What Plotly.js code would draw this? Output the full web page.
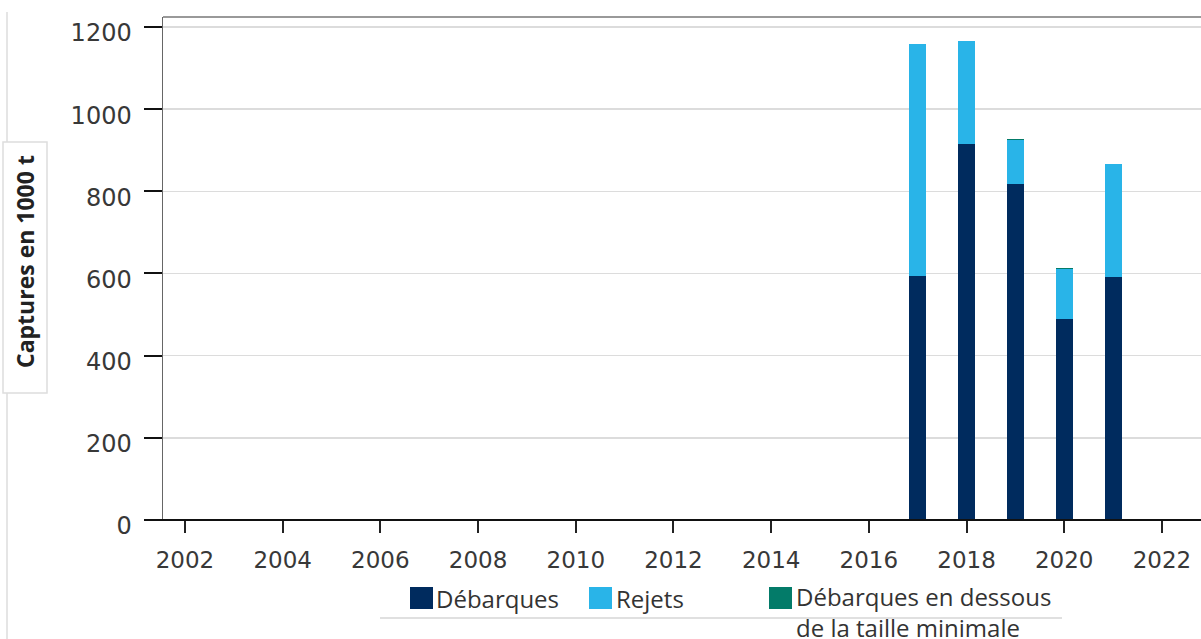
<!DOCTYPE html>
<html>
<head>
<meta charset="utf-8">
<script src="https://cdn.plot.ly/plotly-3.0.1.min.js"></script>
<style>
  html, body { margin: 0; padding: 0; background: #ffffff; }
  #chart { width: 1201px; height: 639px; }
</style>
</head>
<body>
<div id="chart"></div>
<script>
// ---- data ----
const years = [2017, 2018, 2019, 2020, 2021];
const debarques = [594, 914, 819, 489, 591];
const rejets = [565, 252, 105, 122, 276];
const sousTaille = [0, 0, 3, 2, 0];
const xTickVals = [2002, 2004, 2006, 2008, 2010, 2012, 2014, 2016, 2018, 2020, 2022];
const yTickVals = [0, 200, 400, 600, 800, 1000, 1200];
const seriesNames = ["Débarques", "Rejets", "Débarques en dessous<br>de la taille minimale"];
const yTitle = "Captures en 1000 t";

// ---- layout geometry (pixels) ----
const W = 1201, H = 639;
const L = 163, R = 0, T = 17, B = 119;
const PW = W - L - R, PH = H - T - B;
const px = x => (x - L) / PW;          // pixel x -> paper x
const py = y => (H - B - y) / PH;      // pixel y -> paper y

const colNavy = "#002b5e";
const colBlue = "#29b4e8";
const colTeal = "#037b69";

const traces = [
  { type: "bar", x: years, y: debarques, name: seriesNames[0], marker: { color: colNavy }, width: 0.35 },
  { type: "bar", x: years, y: rejets, name: seriesNames[1], marker: { color: colBlue }, width: 0.35 },
  { type: "bar", x: years, y: sousTaille, name: seriesNames[2], marker: { color: colTeal }, width: 0.35 }
];

const tickFont = { family: "DejaVu Sans", size: 23, color: "#383838" };
const legFont = { family: "Open Sans", size: 24, color: "#333333" };

const shapes = [
  // top frame line
  { type: "line", xref: "paper", yref: "paper", x0: 0, x1: 1, y0: py(17), y1: py(17), line: { color: "#777777", width: 1.5 } },
  // x axis baseline extended to the left
  { type: "line", xref: "paper", yref: "paper", x0: px(145), x1: 1, y0: 0, y1: 0, line: { color: "#111111", width: 2 } },
  // outer frame line on the left
  { type: "line", xref: "paper", yref: "paper", x0: px(7), x1: px(7), y0: py(12), y1: py(639), line: { color: "#dddddd", width: 1.5 } },
  // y title box
  { type: "rect", xref: "paper", yref: "paper", x0: px(3), x1: px(47), y0: py(393), y1: py(142), fillcolor: "#ffffff", line: { color: "#dddddd", width: 1.5 } },
  // bottom frame line
  { type: "line", xref: "paper", yref: "paper", x0: px(380), x1: px(1062), y0: py(618), y1: py(618), line: { color: "#d6d6d6", width: 1.5 } },
  // legend squares
  { type: "rect", xref: "paper", yref: "paper", x0: px(410), x1: px(433), y0: py(609), y1: py(587), fillcolor: colNavy, line: { width: 0 } },
  { type: "rect", xref: "paper", yref: "paper", x0: px(589), x1: px(612), y0: py(609), y1: py(587), fillcolor: colBlue, line: { width: 0 } },
  { type: "rect", xref: "paper", yref: "paper", x0: px(769), x1: px(792), y0: py(609), y1: py(587), fillcolor: colTeal, line: { width: 0 } }
];

const annotations = [
  { xref: "paper", yref: "paper", x: px(25), y: py(262), text: "<b>" + yTitle + "</b>", textangle: -90, showarrow: false,
    font: { family: "Open Sans", size: 23, color: "#222222" }, xanchor: "center", yanchor: "middle" },
  { xref: "paper", yref: "paper", x: px(434), y: py(598), text: seriesNames[0], showarrow: false, font: legFont, xanchor: "left", yanchor: "middle" },
  { xref: "paper", yref: "paper", x: px(614), y: py(598), text: seriesNames[1], showarrow: false, font: legFont, xanchor: "left", yanchor: "middle" },
  { xref: "paper", yref: "paper", x: px(794), y: py(578), text: seriesNames[2], showarrow: false, font: legFont,
    xanchor: "left", yanchor: "top", align: "left" }
];

const layout = {
  width: W, height: H,
  margin: { l: L, r: R, t: T, b: B, pad: 0 },
  paper_bgcolor: "#ffffff", plot_bgcolor: "#ffffff",
  barmode: "stack",
  showlegend: false,
  xaxis: {
    range: [2001.55, 2022.8],
    tickmode: "array", tickvals: xTickVals, ticktext: xTickVals.map(String),
    ticks: "outside", ticklen: 12, tickwidth: 2, tickcolor: "#222222",
    showgrid: false, zeroline: false, showline: false,
    tickfont: tickFont, ticklabelstandoff: 7
  },
  yaxis: {
    range: [0, 1224.3],
    tickmode: "array", tickvals: yTickVals, ticktext: yTickVals.map(String),
    ticks: "outside", ticklen: 18, tickwidth: 2, tickcolor: "#111111",
    showgrid: true, gridcolor: "#dcdcdc", gridwidth: 1.5,
    zeroline: false, showline: true, linecolor: "#666666", linewidth: 1.5,
    tickfont: Object.assign({}, tickFont, { size: 24 }), ticklabelstandoff: 7, ticklabelshift: 6
  },
  shapes: shapes,
  annotations: annotations
};

Plotly.newPlot("chart", traces, layout, { displayModeBar: false, staticPlot: true });
</script>
</body>
</html>
